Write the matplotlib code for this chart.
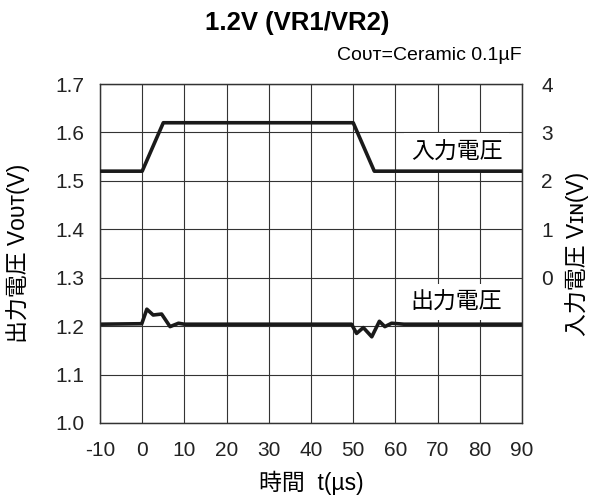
import matplotlib
matplotlib.use("Agg")
import matplotlib.pyplot as plt

FAM = ["Liberation Sans", "Noto Sans CJK JP", "DejaVu Sans"]
plt.rcParams["font.family"] = FAM
plt.rcParams["axes.unicode_minus"] = False

# input voltage (right axis, V) vs time (us)
t_in = [-10, 0, 5, 50, 55, 90]
v_in = [2.2, 2.2, 3.2, 3.2, 2.2, 2.2]

# output voltage (left axis, V) vs time (us)
t_out = [-10, -0.1, 1.1, 2.6, 4.6, 6.6, 8.6, 10, 49.6, 50.8, 52.4, 54.4,
         56.2, 57.5, 59.1, 62, 90]
v_out = [1.204, 1.205, 1.235, 1.223, 1.225, 1.199, 1.206, 1.204, 1.204,
         1.185, 1.197, 1.178, 1.210, 1.199, 1.206, 1.204, 1.204]

xticks = list(range(-10, 91, 10))
yticks_left = [1.0, 1.1, 1.2, 1.3, 1.4, 1.5, 1.6, 1.7]
yticks_right = [0, 1, 2, 3, 4]

fig = plt.figure(figsize=(5.92, 4.96), dpi=100)
ax = fig.add_axes([100 / 592, 1 - 423 / 496, 422 / 592, 339 / 496])
ax2 = ax.twinx()

ax.set_xlim(-10, 90)
ax.set_ylim(1.0, 1.7)
ax2.set_ylim(-3, 4)
ax.set_xticks(xticks)
ax.set_yticks(yticks_left)
ax.set_yticklabels([f"{v:.1f}" for v in yticks_left])
ax2.set_yticks(yticks_right)
ax.grid(True, color="#333333", lw=0.8)
ax.set_axisbelow(True)
for a in (ax, ax2):
    a.tick_params(length=0, labelsize=15, colors="#222222")
    for s in a.spines.values():
        s.set_color("#333333")
        s.set_linewidth(0.9)
ax.tick_params(axis="y", pad=11)
ax.tick_params(axis="x", pad=13)
ax2.tick_params(axis="y", pad=14)

ax.plot(t_out, v_out, color="#1a1a1a", lw=2.6, solid_joinstyle="round", zorder=3)
ax2.plot(t_in, v_in, color="#1a1a1a", lw=2.6, solid_joinstyle="round", zorder=3)

box = dict(facecolor="white", edgecolor="none", pad=5)
ax.text(74.5, 1.56, "入力電圧", ha="center", va="center", fontsize=16.5,
        bbox=box, zorder=4)
ax.text(74.5, 1.25, "出力電圧", ha="center", va="center", fontsize=16.5,
        bbox=box, zorder=4)

ax.set_ylabel("出力電圧 Vᴏᴜᴛ(V)", fontsize=16.5)
ax2.set_ylabel("入力電圧 Vɪɴ(V)", fontsize=16.5)
ax.set_xlabel("時間  t(µs)", fontsize=16.5)
ax.yaxis.set_label_coords(-0.166, 0.5)
ax2.yaxis.set_label_coords(1.102, 0.5)
ax.xaxis.set_label_coords(0.50, -0.14)

fig.text(297 / 592, 1 - 30 / 496, "1.2V (VR1/VR2)", ha="center", va="baseline",
         fontsize=18.5, fontweight="bold")
fig.text(522 / 592, 1 - 60 / 496, "Cᴏᴜᴛ=Ceramic 0.1µF", ha="right",
         va="baseline", fontsize=14)

fig.savefig("out.png", dpi=100)
